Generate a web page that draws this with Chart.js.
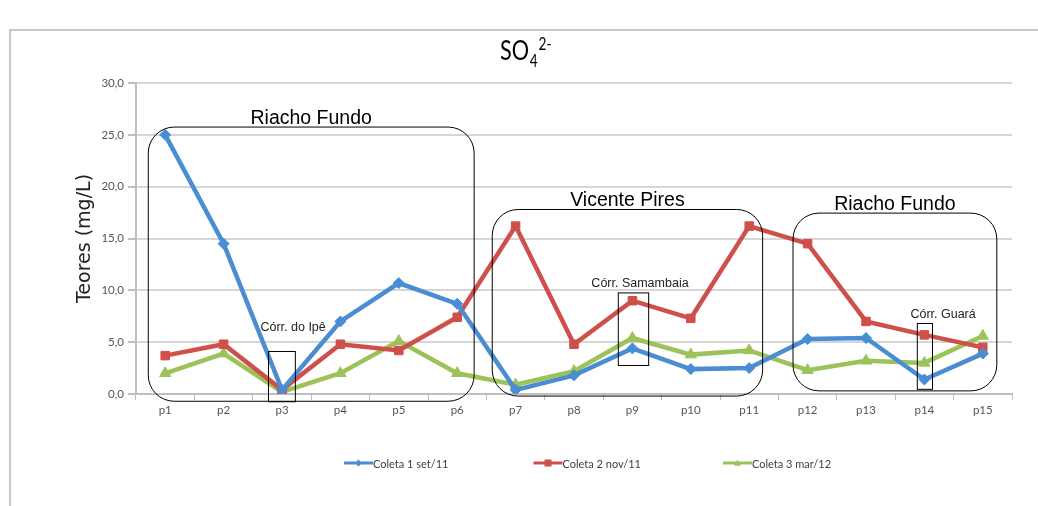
<!DOCTYPE html>
<html lang="pt">
<head>
    <meta charset="UTF-8">
    <title>SO4 2-</title>
    <script src="https://cdn.jsdelivr.net/npm/chart.js"></script>
    <style>
        html, body {
            margin: 0;
            padding: 0;
            background: #fff;
        }
        #wrap {
            width: 1038px;
            height: 506px;
            position: relative;
        }
    </style>
</head>
<body>
    <div id="wrap">
        <canvas id="myChart" width="1038" height="506"></canvas>
    </div>

    <script>
        // data
        const pontos = ['p1', 'p2', 'p3', 'p4', 'p5', 'p6', 'p7', 'p8', 'p9', 'p10', 'p11', 'p12', 'p13', 'p14', 'p15'];
        const coleta1 = [25.0, 14.5, 0.4, 7.0, 10.7, 8.7, 0.4, 1.8, 4.4, 2.4, 2.5, 5.3, 5.4, 1.4, 3.9];
        const coleta2 = [3.7, 4.8, 0.4, 4.8, 4.2, 7.4, 16.2, 4.8, 9.0, 7.3, 16.2, 14.5, 7.0, 5.7, 4.5];
        const coleta3 = [2.0, 3.9, 0.2, 2.0, 5.1, 2.0, 0.9, 2.2, 5.4, 3.8, 4.2, 2.3, 3.2, 3.0, 5.6];
        const nomes = ['Coleta 1 set/11', 'Coleta 2 nov/11', 'Coleta 3 mar/12'];
        const yTicks = [0, 5, 10, 15, 20, 25, 30];

        // annotation boxes, in axis units (category index / mg/L)
        const bacias = [
            { nome: 'Riacho Fundo', de: -0.29, ate: 5.29, topo: 25.75, base: -0.7 },
            { nome: 'Vicente Pires', de: 5.6, ate: 10.23, topo: 17.8, base: -0.2 },
            { nome: 'Riacho Fundo', de: 10.75, ate: 14.24, topo: 17.45, base: 0.3 }
        ];
        const corregos = [
            { nome: 'Córr. do Ipê', de: 1.76, ate: 2.22, topo: 4.15, base: -0.7, tx: 2.19, ty: 6.1 },
            { nome: 'Córr. Samambaia', de: 7.75, ate: 8.27, topo: 9.8, base: 2.8, tx: 8.13, ty: 10.3 },
            { nome: 'Córr. Guará', de: 12.87, ate: 13.13, topo: 6.85, base: 0.5, tx: 13.32, ty: 7.3 }
        ];

        const cores = ['#4a8dd2', '#cf4f4a', '#9bc35a'];
        const estilos = ['rectRot', 'rect', 'triangle'];
        const raios = [5.5, 6, 6.5];

        function marca(ctx, estilo, x, y, r) {
            ctx.beginPath();
            if (estilo === 'rectRot') {
                ctx.moveTo(x, y - r); ctx.lineTo(x + r, y); ctx.lineTo(x, y + r); ctx.lineTo(x - r, y);
            } else if (estilo === 'rect') {
                ctx.rect(x - r, y - r, 2 * r, 2 * r);
            } else {
                ctx.moveTo(x, y - r); ctx.lineTo(x + r, y + r * 0.8); ctx.lineTo(x - r, y + r * 0.8);
            }
            ctx.closePath();
            ctx.fill();
        }

        const extras = {
            id: 'extras',
            beforeDraw(chart) {
                const ctx = chart.ctx;
                ctx.save();
                // outer frame (top + left)
                ctx.strokeStyle = '#c9c9c9';
                ctx.lineWidth = 2;
                ctx.beginPath();
                ctx.moveTo(10, 506); ctx.lineTo(10, 30); ctx.lineTo(1038, 30);
                ctx.stroke();

                // title SO4 2-, squeezed a bit to look like Calibri
                ctx.fillStyle = '#000';
                ctx.textBaseline = 'alphabetic';
                ctx.translate(500, 0);
                ctx.scale(0.8, 1);
                ctx.font = '27px Lato, sans-serif';
                ctx.fillText('SO', 0, 60);
                const w = ctx.measureText('SO').width;
                ctx.font = '17px Lato, sans-serif';
                ctx.fillText('4', w + 1, 67);
                ctx.fillText('2-', w + 12, 50);
                ctx.restore();
            },
            afterDatasetsDraw(chart) {
                const { ctx, scales: { x, y } } = chart;
                ctx.save();
                ctx.strokeStyle = '#000';
                ctx.fillStyle = '#000';
                ctx.lineWidth = 1;
                ctx.textAlign = 'center';
                ctx.textBaseline = 'alphabetic';

                bacias.forEach(b => {
                    const x0 = x.getPixelForValue(b.de), x1 = x.getPixelForValue(b.ate);
                    const y0 = y.getPixelForValue(b.topo), y1 = y.getPixelForValue(b.base);
                    ctx.beginPath();
                    ctx.roundRect(x0, y0, x1 - x0, y1 - y0, 26);
                    ctx.stroke();
                    ctx.font = '19.5px "Liberation Sans", Arial, sans-serif';
                    ctx.fillStyle = '#000';
                    ctx.fillText(b.nome, (x0 + x1) / 2, y0 - 3);
                });

                corregos.forEach(c => {
                    const x0 = x.getPixelForValue(c.de), x1 = x.getPixelForValue(c.ate);
                    const y0 = y.getPixelForValue(c.topo), y1 = y.getPixelForValue(c.base);
                    ctx.strokeRect(x0 + 0.5, y0 + 0.5, x1 - x0, y1 - y0);
                    ctx.font = '12.5px "Liberation Sans", Arial, sans-serif';
                    ctx.fillStyle = '#222';
                    ctx.fillText(c.nome, x.getPixelForValue(c.tx), y.getPixelForValue(c.ty));
                });

                // legend
                ctx.textAlign = 'left';
                ctx.textBaseline = 'middle';
                ctx.font = '11px Lato, "Open Sans", sans-serif';
                const ly = 463;
                chart.data.datasets.forEach((ds, i) => {
                    const lx = 344 + i * 189.5;
                    ctx.strokeStyle = ds.borderColor;
                    ctx.lineWidth = 3;
                    ctx.beginPath();
                    ctx.moveTo(lx, ly); ctx.lineTo(lx + 29, ly);
                    ctx.stroke();
                    ctx.fillStyle = ds.borderColor;
                    marca(ctx, estilos[i], lx + 14.5, ly, 3.5);
                    ctx.fillStyle = '#404040';
                    ctx.fillText(ds.label, lx + 29, ly + 1);
                });
                ctx.restore();
            }
        };

        const datasets = [coleta1, coleta2, coleta3].map((serie, i) => ({
            label: nomes[i],
            data: serie,
            borderColor: cores[i],
            backgroundColor: cores[i],
            borderWidth: 4.5,
            pointStyle: estilos[i],
            pointRadius: raios[i],
            pointBorderWidth: 1,
            pointHoverRadius: raios[i],
            tension: 0
        }));

        const ctx = document.getElementById('myChart').getContext('2d');
        new Chart(ctx, {
            type: 'line',
            data: { labels: pontos, datasets: datasets },
            plugins: [extras],
            options: {
                responsive: false,
                animation: false,
                layout: { padding: { left: 0, right: 26, top: 83, bottom: 0 } },
                plugins: {
                    legend: { display: false },
                    title: { display: false },
                    tooltip: { enabled: false }
                },
                scales: {
                    x: {
                        offset: true,
                        afterFit(scale) { scale.height = 112; },
                        grid: {
                            offset: true,
                            drawOnChartArea: false,
                            tickLength: 6,
                            color: '#bfbfbf',
                            lineWidth: 1
                        },
                        border: { color: '#bfbfbf', width: 2 },
                        ticks: {
                            color: '#555',
                            font: { family: 'Lato, sans-serif', size: 11.5 },
                            padding: 3,
                            maxRotation: 0
                        }
                    },
                    y: {
                        min: 0,
                        max: 30,
                        afterFit(scale) { scale.width = 136; },
                        afterBuildTicks(scale) { scale.ticks = yTicks.map(v => ({ value: v })); },
                        grid: {
                            color: '#d6d6d6',
                            lineWidth: 2,
                            tickLength: 8,
                            tickColor: '#bfbfbf'
                        },
                        border: { color: '#bfbfbf', width: 2 },
                        ticks: {
                            color: '#555',
                            font: { family: 'Lato, sans-serif', size: 11.5 },
                            padding: 4,
                            callback: v => v.toFixed(1).replace('.', ',')
                        },
                        title: {
                            display: true,
                            text: 'Teores (mg/L)',
                            color: '#222',
                            font: { family: '"DejaVu Sans", sans-serif', size: 19 },
                            padding: { top: 74, bottom: 0 }
                        }
                    }
                }
            }
        });
    </script>
</body>
</html>
